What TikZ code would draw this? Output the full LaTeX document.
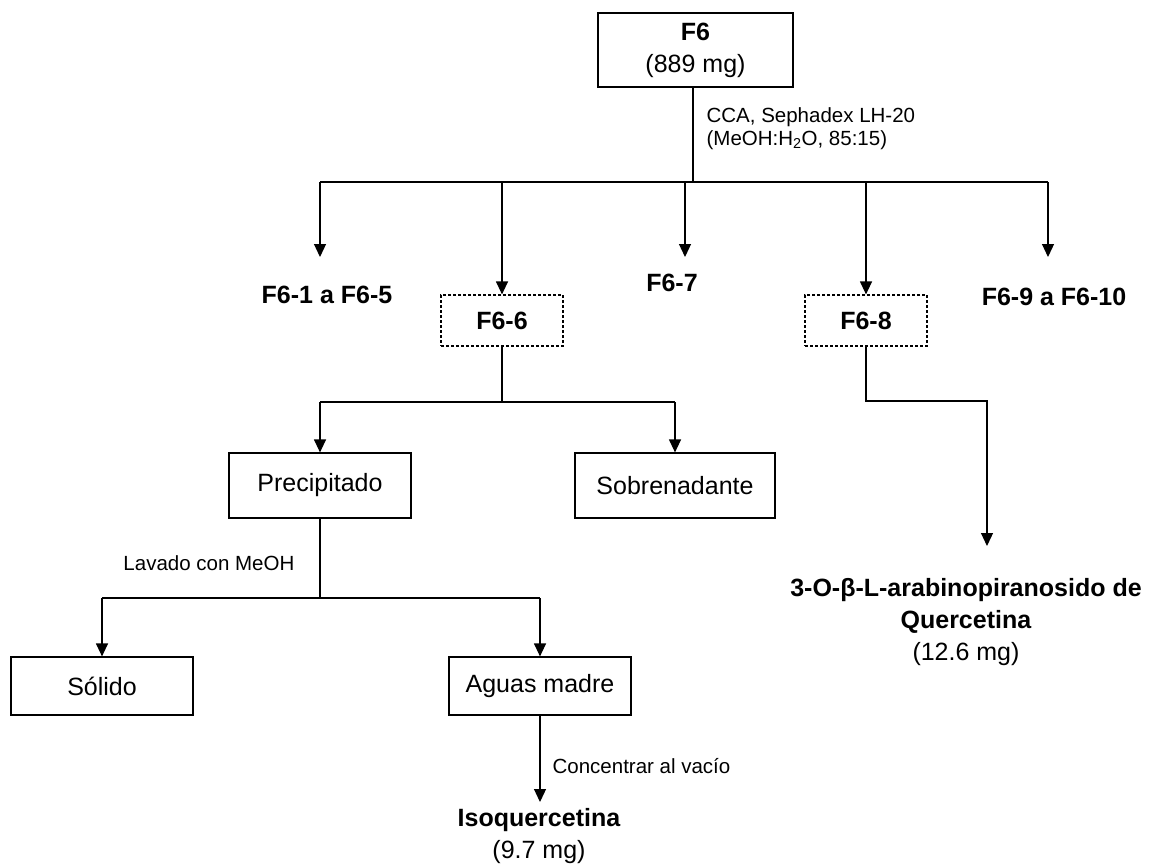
\documentclass[tikz,border=0pt]{standalone}
\usepackage{fontspec}
\setmainfont{Liberation Sans}
\usetikzlibrary{arrows.meta}
\begin{document}
\begin{tikzpicture}[x=1pt,y=-1pt,
  line width=1.2pt,
  big/.style={font=\fontsize{25}{32}\selectfont, align=center, inner sep=0pt},
  small/.style={font=\fontsize{20.5}{23}\selectfont, align=left, inner sep=0pt},
  box/.style={big, draw, line width=1.2pt, minimum width=182pt, minimum height=65pt},
  dbox/.style={big, draw, line width=1.2pt, dash pattern=on 3pt off 2pt, minimum width=122pt, minimum height=51pt},
  arr/.style={-{Triangle[length=13pt,width=12pt]}},
]
\useasboundingbox (0,0) rectangle (1150,865);

% top box
\node[box, minimum width=195pt, minimum height=74pt] (f6) at (695.5,50) {\textbf{F6}\\(889 mg)};
\coordinate (j1) at (693,182);
\draw (j1 |- f6.south) -- (j1);
\node[small, anchor=west] (cca) at (706,129) {CCA, Sephadex LH-20\\(MeOH:H\textsubscript{2}O, 85:15)};

% first bar
\coordinate (b1) at (320,182);
\coordinate (b2) at (502,182);
\coordinate (b3) at (685,182);
\coordinate (b4) at (866,182);
\coordinate (b5) at (1048,182);
\draw (b1) -- (b5);

\coordinate (t1) at (320,257);
\coordinate (t3) at (685,257);
\coordinate (t5) at (1048,257);
\node[dbox] (f66) at (502,320.5) {\textbf{F6-6}};
\node[dbox] (f68) at (866,320.5) {\textbf{F6-8}};
\draw[arr] (b1) -- (t1);
\draw[arr] (b2) -- (f66.north);
\draw[arr] (b3) -- (t3);
\draw[arr] (b4) -- (f68.north);
\draw[arr] (b5) -- (t5);

\node[big] (l1) at (327,295) {\textbf{F6-1 a F6-5}};
\node[big] (l3) at (672,283) {\textbf{F6-7}};
\node[big] (l5) at (1054,297) {\textbf{F6-9 a F6-10}};

% F6-6 branch
\coordinate (j2) at (502,402);
\coordinate (c1) at (320,402);
\coordinate (c2) at (675,402);
\draw (f66.south) -- (j2);
\draw (c1) -- (c2);
\node[box] (prec) at (320,485.5) {Precipitado};
\node[box, minimum width=200pt] (sobre) at (675,485.5) {Sobrenadante};
\draw[arr] (c1) -- (prec.north);
\draw[arr] (c2) -- (sobre.north);

% Precipitado branch
\coordinate (j3) at (320,598);
\coordinate (d1) at (102,598);
\coordinate (d2) at (540,598);
\draw (prec.south) -- (j3);
\draw (d1) -- (d2);
\node[small, anchor=east] (lav) at (295,563) {Lavado con MeOH};
\node[box, minimum height=58pt] (sol) at (102,686) {Sólido};
\node[box, minimum height=58pt] (agu) at (540,686) {Aguas madre};
\draw[arr] (d1) -- (sol.north);
\draw[arr] (d2) -- (agu.north);

\coordinate (t6) at (540,802);
\draw[arr] (agu.south) -- (t6);
\node[small, anchor=west] (conc) at (552,766) {Concentrar al vacío};
\node[big] (iso) at (539,836) {\textbf{Isoquercetina}\\(9.7 mg)};

% F6-8 branch
\coordinate (j4) at (866,401);
\coordinate (t7) at (987,546);
\draw[arr] (f68.south) -- (j4) -| (t7);
\node[big] (quer) at (966,622) {\textbf{3-O-β-L-arabinopiranosido de}\\\textbf{Quercetina}\\(12.6 mg)};
\end{tikzpicture}
\end{document}
